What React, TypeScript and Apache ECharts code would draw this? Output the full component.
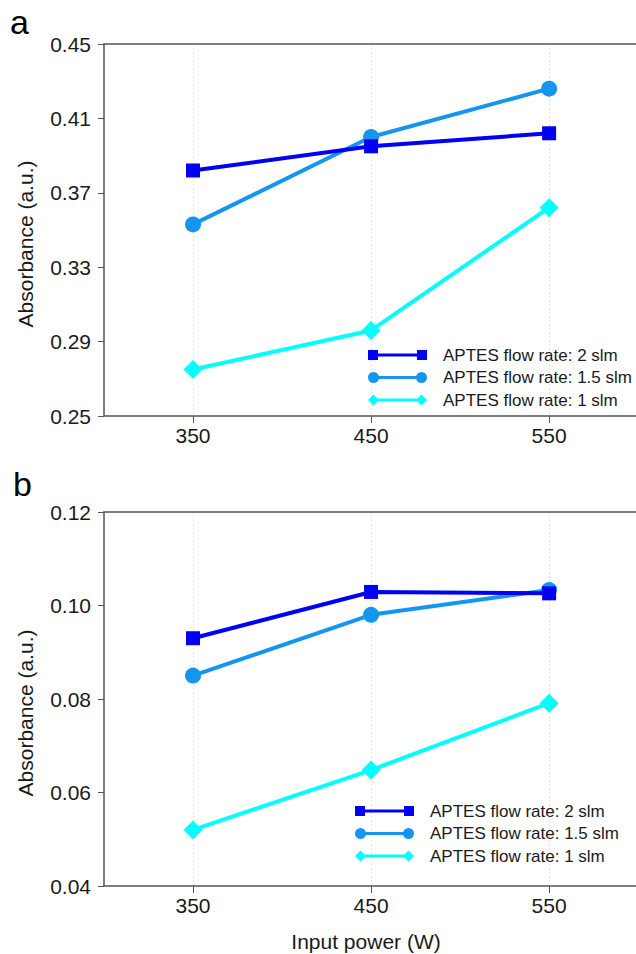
import React, { useEffect, useRef } from "react";
import * as echarts from "echarts";

// ---- data ----
const powers = [350, 450, 550];
const seriesNames = [
  "APTES flow rate: 2 slm",
  "APTES flow rate: 1.5 slm",
  "APTES flow rate: 1 slm",
];
// panel a
const a2slm = [0.382, 0.395, 0.402];
const a15slm = [0.353, 0.4, 0.426];
const a1slm = [0.275, 0.296, 0.362];
// panel b
const b2slm = [0.093, 0.1029, 0.1026];
const b15slm = [0.085, 0.098, 0.1033];
const b1slm = [0.052, 0.0648, 0.0791];
// tick labels
const xTicks = [350, 450, 550];
const yTicksA = [0.25, 0.29, 0.33, 0.37, 0.41, 0.45];
const yTicksB = [0.04, 0.06, 0.08, 0.1, 0.12];

// x range: the plot frame runs off the right edge of the figure
const X_MIN = 300;
const X_MAX = 637;

const COLORS = ["#0000f5", "#1496f0", "#00ffff"];
const SYMBOLS = ["rect", "circle", "diamond"];
const SYMBOL_SIZES = [14, 16, 19];
const FONT = "'Liberation Sans', Arial, sans-serif";
const AXIS_COLOR = "#555555";

const ICONS = [
  "path://M0,0 H10 V3.5 H49 V0 H59 V10 H49 V6.5 H10 V10 H0 Z",
  "path://M0,5.5 A5.5,5.5 0 1,1 11,5.5 A5.5,5.5 0 1,1 0,5.5 Z M5.5,4 H53.5 V7 H5.5 Z M48,5.5 A5.5,5.5 0 1,1 59,5.5 A5.5,5.5 0 1,1 48,5.5 Z",
  "path://M5.5,0 L11,5.5 L5.5,11 L0,5.5 Z M5.5,4 H53.5 V7 H5.5 Z M53.5,0 L59,5.5 L53.5,11 L48,5.5 Z",
];

function pairs(ys: number[]) {
  return powers.map((p, i) => [p, ys[i]]);
}

export default function App() {
  const ref = useRef<HTMLDivElement>(null);
  useEffect(() => {
    if (!ref.current) return;
    const chart = echarts.init(ref.current, null, { renderer: "svg" });

    const xAxisBase = (gridIndex: number, withName: boolean) => ({
      type: "value",
      gridIndex,
      min: X_MIN,
      max: X_MAX,
      axisLine: { show: true, onZero: false, lineStyle: { color: AXIS_COLOR, width: 1.5 } },
      axisTick: {
        show: true,
        inside: false,
        length: 7,
        customValues: xTicks,
        lineStyle: { color: AXIS_COLOR, width: 1 },
      },
      axisLabel: {
        customValues: xTicks,
        formatter: (v: number) => String(v),
        fontSize: 21,
        color: "#1a1a1a",
        fontFamily: FONT,
        margin: 9,
      },
      splitLine: {
        show: true,
        lineStyle: { color: "#e4e4e4", width: 1, type: [2, 2] },
      },
      name: withName ? "Input power (W)" : "",
      nameLocation: "middle",
      nameGap: 45,
      nameTextStyle: {
        fontSize: 21,
        color: "#1a1a1a",
        fontFamily: FONT,
        padding: [0, 76, 0, 0],
      },
    });

    // top frame line of each panel
    const xAxisTop = (gridIndex: number) => ({
      type: "value",
      gridIndex,
      position: "top",
      min: X_MIN,
      max: X_MAX,
      axisLine: { show: true, onZero: false, lineStyle: { color: AXIS_COLOR, width: 1.5 } },
      axisTick: { show: false },
      axisLabel: { show: false },
      splitLine: { show: false },
    });

    const yAxisBase = (gridIndex: number, min: number, max: number, ticks: number[]) => ({
      type: "value",
      gridIndex,
      min,
      max,
      axisLine: { show: true, onZero: false, lineStyle: { color: AXIS_COLOR, width: 1.5 } },
      axisTick: {
        show: true,
        inside: false,
        length: 6,
        customValues: ticks,
        lineStyle: { color: AXIS_COLOR, width: 1 },
      },
      axisLabel: {
        customValues: ticks,
        formatter: (v: number) => v.toFixed(2),
        fontSize: 21,
        color: "#1a1a1a",
        fontFamily: FONT,
        margin: 13,
      },
      splitLine: { show: false },
      name: "Absorbance (a.u.)",
      nameLocation: "middle",
      nameGap: 68,
      nameTextStyle: {
        fontSize: 21,
        color: "#1a1a1a",
        fontFamily: FONT,
        padding: [0, 28, 0, 0],
      },
    });

    const panels = [
      [a2slm, a15slm, a1slm],
      [b2slm, b15slm, b1slm],
    ];

    const series: any[] = [];
    panels.forEach((vals, p) => {
      // draw 1 slm first so 2 slm ends up on top
      [2, 1, 0].forEach((k) => {
        series.push({
          type: "line",
          name: seriesNames[k],
          xAxisIndex: p,
          yAxisIndex: p,
          data: pairs(vals[k]),
          symbol: SYMBOLS[k],
          symbolSize: SYMBOL_SIZES[k],
          color: COLORS[k],
          lineStyle: { width: 4, color: COLORS[k] },
          itemStyle: { color: COLORS[k] },
          z: 3 + (2 - k),
        });
      });
    });

    const legendBase = (left: number, top: number) => ({
      left,
      top,
      orient: "vertical",
      padding: 0,
      itemWidth: 59,
      itemHeight: 11,
      itemGap: 5.5,
      selectedMode: false,
      itemStyle: { borderWidth: 0 },
      textStyle: {
        fontSize: 17,
        color: "#1a1a1a",
        fontFamily: FONT,
        padding: [0, 0, 0, 11],
      },
      data: seriesNames.map((n, i) => ({ name: n, icon: ICONS[i] })),
    });

    chart.setOption({
      animation: false,
      backgroundColor: "#ffffff",
      grid: [
        {
          left: 104,
          top: 44,
          width: 600,
          height: 372,
          show: false,
          containLabel: false,
          outerBoundsMode: "none",
        },
        {
          left: 104,
          top: 512,
          width: 600,
          height: 374,
          show: false,
          containLabel: false,
          outerBoundsMode: "none",
        },
      ],
      xAxis: [xAxisBase(0, false), xAxisBase(1, true), xAxisTop(0), xAxisTop(1)],
      yAxis: [yAxisBase(0, 0.25, 0.45, yTicksA), yAxisBase(1, 0.04, 0.12, yTicksB)],
      legend: [legendBase(368, 346.5), legendBase(355, 802.5)],
      graphic: [
        // white masks over the stray frame line at the right edge (no right border in the figure)
        {
          type: "rect",
          z: 1,
          silent: true,
          shape: { x: 626, y: 46, width: 20, height: 368 },
          style: { fill: "#ffffff" },
        },
        {
          type: "rect",
          z: 1,
          silent: true,
          shape: { x: 626, y: 514, width: 20, height: 370 },
          style: { fill: "#ffffff" },
        },
        {
          type: "text",
          left: 10,
          top: 5,
          z: 10,
          style: { text: "a", fontSize: 34, fill: "#000", fontFamily: FONT },
        },
        {
          type: "text",
          left: 13,
          top: 467,
          z: 10,
          style: { text: "b", fontSize: 34, fill: "#000", fontFamily: FONT },
        },
      ],
      series,
    });

    return () => chart.dispose();
  }, []);

  return (
    <div
      ref={ref}
      style={{ position: "fixed", left: 0, top: 0, width: 636, height: 954 }}
    />
  );
}
